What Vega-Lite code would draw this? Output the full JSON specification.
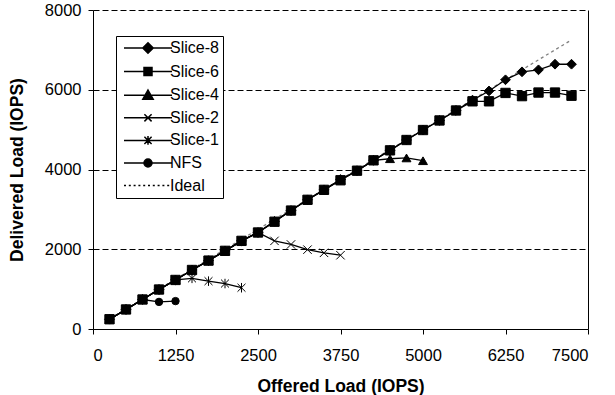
{
  "$schema": "https://vega.github.io/schema/vega-lite/v6.json",
  "width": 495,
  "height": 319,
  "autosize": {"type": "none"},
  "padding": {"left": 93, "top": 10, "right": 27, "bottom": 66},
  "background": "white",
  "config": {
    "view": {"stroke": null},
    "font": "Liberation Sans",
    "axis": {"labelFont": "Liberation Sans", "titleFont": "Liberation Sans", "labelColor": "black", "titleColor": "black", "domainColor": "black", "tickColor": "black"},
    "legend": {"labelFont": "Liberation Sans"}
  },
  "datasets": {
    "pts": [
      {"series": "Ideal", "offered": 250, "delivered": 250},
      {"series": "Ideal", "offered": 7250, "delivered": 7250},
      {"series": "Slice-8", "offered": 250, "delivered": 245},
      {"series": "Slice-8", "offered": 500, "delivered": 490},
      {"series": "Slice-8", "offered": 750, "delivered": 740},
      {"series": "Slice-8", "offered": 1000, "delivered": 990},
      {"series": "Slice-8", "offered": 1250, "delivered": 1230},
      {"series": "Slice-8", "offered": 1500, "delivered": 1480},
      {"series": "Slice-8", "offered": 1750, "delivered": 1715},
      {"series": "Slice-8", "offered": 2000, "delivered": 1960},
      {"series": "Slice-8", "offered": 2250, "delivered": 2210},
      {"series": "Slice-8", "offered": 2500, "delivered": 2420},
      {"series": "Slice-8", "offered": 2750, "delivered": 2700},
      {"series": "Slice-8", "offered": 3000, "delivered": 2970},
      {"series": "Slice-8", "offered": 3250, "delivered": 3240},
      {"series": "Slice-8", "offered": 3500, "delivered": 3490},
      {"series": "Slice-8", "offered": 3750, "delivered": 3750},
      {"series": "Slice-8", "offered": 4000, "delivered": 3970},
      {"series": "Slice-8", "offered": 4250, "delivered": 4230},
      {"series": "Slice-8", "offered": 4500, "delivered": 4480},
      {"series": "Slice-8", "offered": 4750, "delivered": 4740},
      {"series": "Slice-8", "offered": 5000, "delivered": 4990},
      {"series": "Slice-8", "offered": 5250, "delivered": 5230},
      {"series": "Slice-8", "offered": 5500, "delivered": 5480},
      {"series": "Slice-8", "offered": 5750, "delivered": 5740},
      {"series": "Slice-8", "offered": 6000, "delivered": 5970},
      {"series": "Slice-8", "offered": 6250, "delivered": 6250},
      {"series": "Slice-8", "offered": 6500, "delivered": 6450},
      {"series": "Slice-8", "offered": 6750, "delivered": 6500},
      {"series": "Slice-8", "offered": 7000, "delivered": 6640},
      {"series": "Slice-8", "offered": 7250, "delivered": 6640},
      {"series": "Slice-4", "offered": 250, "delivered": 245},
      {"series": "Slice-4", "offered": 500, "delivered": 490},
      {"series": "Slice-4", "offered": 750, "delivered": 740},
      {"series": "Slice-4", "offered": 1000, "delivered": 990},
      {"series": "Slice-4", "offered": 1250, "delivered": 1230},
      {"series": "Slice-4", "offered": 1500, "delivered": 1480},
      {"series": "Slice-4", "offered": 1750, "delivered": 1715},
      {"series": "Slice-4", "offered": 2000, "delivered": 1960},
      {"series": "Slice-4", "offered": 2250, "delivered": 2210},
      {"series": "Slice-4", "offered": 2500, "delivered": 2420},
      {"series": "Slice-4", "offered": 2750, "delivered": 2700},
      {"series": "Slice-4", "offered": 3000, "delivered": 2970},
      {"series": "Slice-4", "offered": 3250, "delivered": 3240},
      {"series": "Slice-4", "offered": 3500, "delivered": 3490},
      {"series": "Slice-4", "offered": 3750, "delivered": 3740},
      {"series": "Slice-4", "offered": 4000, "delivered": 3970},
      {"series": "Slice-4", "offered": 4250, "delivered": 4230},
      {"series": "Slice-4", "offered": 4500, "delivered": 4270},
      {"series": "Slice-4", "offered": 4750, "delivered": 4290},
      {"series": "Slice-4", "offered": 5000, "delivered": 4220},
      {"series": "Slice-2", "offered": 250, "delivered": 245},
      {"series": "Slice-2", "offered": 500, "delivered": 490},
      {"series": "Slice-2", "offered": 750, "delivered": 740},
      {"series": "Slice-2", "offered": 1000, "delivered": 990},
      {"series": "Slice-2", "offered": 1250, "delivered": 1230},
      {"series": "Slice-2", "offered": 1500, "delivered": 1480},
      {"series": "Slice-2", "offered": 1750, "delivered": 1715},
      {"series": "Slice-2", "offered": 2000, "delivered": 1960},
      {"series": "Slice-2", "offered": 2250, "delivered": 2210},
      {"series": "Slice-2", "offered": 2500, "delivered": 2420},
      {"series": "Slice-2", "offered": 2750, "delivered": 2210},
      {"series": "Slice-2", "offered": 3000, "delivered": 2120},
      {"series": "Slice-2", "offered": 3250, "delivered": 1990},
      {"series": "Slice-2", "offered": 3500, "delivered": 1910},
      {"series": "Slice-2", "offered": 3750, "delivered": 1850},
      {"series": "Slice-1", "offered": 250, "delivered": 245},
      {"series": "Slice-1", "offered": 500, "delivered": 490},
      {"series": "Slice-1", "offered": 750, "delivered": 740},
      {"series": "Slice-1", "offered": 1000, "delivered": 990},
      {"series": "Slice-1", "offered": 1250, "delivered": 1230},
      {"series": "Slice-1", "offered": 1500, "delivered": 1270},
      {"series": "Slice-1", "offered": 1750, "delivered": 1200},
      {"series": "Slice-1", "offered": 2000, "delivered": 1140},
      {"series": "Slice-1", "offered": 2250, "delivered": 1035},
      {"series": "NFS", "offered": 250, "delivered": 245},
      {"series": "NFS", "offered": 500, "delivered": 490},
      {"series": "NFS", "offered": 750, "delivered": 740},
      {"series": "NFS", "offered": 1000, "delivered": 680},
      {"series": "NFS", "offered": 1250, "delivered": 700},
      {"series": "Slice-6", "offered": 250, "delivered": 245},
      {"series": "Slice-6", "offered": 500, "delivered": 490},
      {"series": "Slice-6", "offered": 750, "delivered": 740},
      {"series": "Slice-6", "offered": 1000, "delivered": 990},
      {"series": "Slice-6", "offered": 1250, "delivered": 1230},
      {"series": "Slice-6", "offered": 1500, "delivered": 1480},
      {"series": "Slice-6", "offered": 1750, "delivered": 1715},
      {"series": "Slice-6", "offered": 2000, "delivered": 1960},
      {"series": "Slice-6", "offered": 2250, "delivered": 2210},
      {"series": "Slice-6", "offered": 2500, "delivered": 2420},
      {"series": "Slice-6", "offered": 2750, "delivered": 2690},
      {"series": "Slice-6", "offered": 3000, "delivered": 2970},
      {"series": "Slice-6", "offered": 3250, "delivered": 3240},
      {"series": "Slice-6", "offered": 3500, "delivered": 3490},
      {"series": "Slice-6", "offered": 3750, "delivered": 3730},
      {"series": "Slice-6", "offered": 4000, "delivered": 3970},
      {"series": "Slice-6", "offered": 4250, "delivered": 4230},
      {"series": "Slice-6", "offered": 4500, "delivered": 4480},
      {"series": "Slice-6", "offered": 4750, "delivered": 4740},
      {"series": "Slice-6", "offered": 5000, "delivered": 4990},
      {"series": "Slice-6", "offered": 5250, "delivered": 5230},
      {"series": "Slice-6", "offered": 5500, "delivered": 5480},
      {"series": "Slice-6", "offered": 5750, "delivered": 5710},
      {"series": "Slice-6", "offered": 6000, "delivered": 5710},
      {"series": "Slice-6", "offered": 6250, "delivered": 5920},
      {"series": "Slice-6", "offered": 6500, "delivered": 5840},
      {"series": "Slice-6", "offered": 6750, "delivered": 5930},
      {"series": "Slice-6", "offered": 7000, "delivered": 5930},
      {"series": "Slice-6", "offered": 7250, "delivered": 5850}
    ]
  },
  "data": {"name": "pts"},
  "resolve": {"scale": {"shape": "independent", "size": "independent"}, "legend": {"shape": "independent"}, "axis": {"y": "independent"}},
  "layer": [
    {
      "transform": [{"filter": "datum.series === 'Ideal'"}],
      "mark": {"type": "line", "color": "#808080", "strokeDash": [3, 3], "strokeWidth": 1.3},
      "encoding": {
        "x": {"field": "offered", "type": "quantitative", "scale": {"domain": [0, 7500], "nice": false},
          "axis": {"values": [0, 1250, 2500, 3750, 5000, 6250, 7500], "format": "d", "grid": false, "tickSize": 5, "labelFontSize": 16.5, "labelPadding": 13, "title": "Offered Load (IOPS)", "titleFontSize": 17.5, "titleFontWeight": "bold", "titleBaseline": "middle", "titleY": 57}},
        "y": {"field": "delivered", "type": "quantitative", "scale": {"domain": [0, 8000], "nice": false},
          "axis": {"values": [0, 2000, 4000, 6000, 8000], "format": "d", "grid": true, "gridColor": "black", "gridDash": [6, 3], "gridOpacity": 1, "gridWidth": 1, "tickSize": 5, "labelFontSize": 16.5, "labelPadding": 7, "title": "Delivered Load (IOPS)", "titleFontSize": 17.5, "titleFontWeight": "bold", "titleBaseline": "middle", "titleX": -76}}
      }
    },
    {
      "transform": [{"filter": "datum.series !== 'Ideal'"}],
      "mark": {"type": "line", "color": "black", "strokeWidth": 1.3},
      "encoding": {
        "x": {"field": "offered", "type": "quantitative"},
        "y": {"field": "delivered", "type": "quantitative", "axis": null},
        "detail": {"field": "series"}
      }
    },
    {
      "transform": [{"filter": "datum.series !== 'Ideal'"}],
      "mark": {"type": "point", "filled": true, "fill": "black", "stroke": "black", "strokeWidth": 1, "opacity": 1},
      "encoding": {
        "x": {"field": "offered", "type": "quantitative"},
        "y": {"field": "delivered", "type": "quantitative", "axis": null},
        "shape": {"field": "series", "type": "nominal", "legend": null,
          "scale": {"domain": ["Slice-8", "Slice-6", "Slice-4", "Slice-2", "Slice-1", "NFS"],
            "range": ["diamond", "square", "triangle-up", "M-1,-1L1,1M-1,1L1,-1", "M-1,-1L1,1M-1,1L1,-1M0,-1.2V1.2", "circle"]}},
        "size": {"field": "series", "type": "nominal", "legend": null,
          "scale": {"domain": ["Slice-8", "Slice-6", "Slice-4", "Slice-2", "Slice-1", "NFS"], "range": [95, 55, 75, 55, 55, 60]}}
      }
    },
    {
      "transform": [{"filter": "false"}],
      "mark": {"type": "point", "filled": true, "fill": "black", "stroke": "black", "strokeWidth": 1, "opacity": 1},
      "encoding": {
        "x": {"field": "offered", "type": "quantitative"},
        "y": {"field": "delivered", "type": "quantitative",
          "axis": {"orient": "right", "labels": false, "ticks": false, "grid": false, "domain": true, "title": null, "values": [0, 8000]}},
        "shape": {"field": "series", "type": "nominal",
          "scale": {"domain": ["Slice-8", "Slice-6", "Slice-4", "Slice-2", "Slice-1", "NFS", "Ideal"],
            "range": ["M-6,0H6M0,-1.3L1.3,0L0,1.3L-1.3,0Z", "M-6,0H6M-1,-1H1V1H-1Z", "M-6,0H6M0,-1.3L1.3,1L-1.3,1Z", "M-6,0H6M-0.9,-0.9L0.9,0.9M-0.9,0.9L0.9,-0.9", "M-6,0H6M-0.9,-0.9L0.9,0.9M-0.9,0.9L0.9,-0.9M0,-1.1V1.1", "M-6,0H6M1,0A1,1,0,1,1,-1,0A1,1,0,1,1,1,0Z", "M-6,0H-5.5M-4.8,0H-4.3M-3.6,0H-3.1M-2.4,0H-1.9M-1.2,0H-0.7M0,0H0.5M1.2,0H1.7M2.4,0H2.9M3.6,0H4.1M4.8,0H5.3"]},
          "legend": {"orient": "none", "legendX": 23, "legendY": 26, "title": null, "strokeColor": "black", "fillColor": "white", "padding": 4, "symbolSize": 64, "symbolOffset": 20, "labelOffset": 14, "labelFontSize": 16, "labelColor": "black", "rowPadding": 6.6,
            "encode": {"symbols": {"update": {"stroke": {"value": "black"}, "strokeWidth": {"value": 1}, "fill": {"value": "black"}, "opacity": {"value": 1}}}}}}
      }
    }
  ]
}
